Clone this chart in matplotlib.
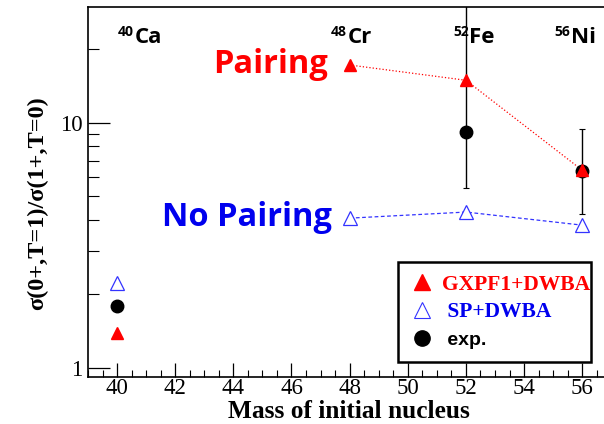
import matplotlib.pyplot as plt
from matplotlib.lines import Line2D
from matplotlib.ticker import MultipleLocator, LogLocator, NullFormatter, FixedLocator

# data
mass_th = [40, 48, 52, 56]
gxpf1 = [1.39, 17.2, 14.9, 6.4]
sp = [2.21, 4.08, 4.32, 3.82]

mass_exp = [40, 52, 56]
exp_val = [1.79, 9.15, 6.33]
exp_lo = [0.0, 5.41, 4.23]
exp_hi = [0.0, 40.0, 9.4]

nuc_a = ["40", "48", "52", "56"]
nuc_sym = ["Ca", "Cr", "Fe", "Ni"]
nuc_x = [40.6, 47.94, 52.12, 55.6]

serif = "Liberation Serif"

fig = plt.figure(figsize=(6.04, 4.24), dpi=100)
ax = fig.add_axes([0.1457, 0.1116, 0.8543, 0.8714])
ax.set_yscale("log")
ax.set_xlim(39.0, 56.75)
ax.set_ylim(0.92, 29.6)

# lines for the connected points
ax.plot(mass_th[1:], gxpf1[1:], ":", color="red", lw=0.9)
ax.plot(mass_th[1:], sp[1:], "--", color="#3333ff", lw=0.9, dashes=(3, 2))

# exp points with error bars
yerr_lo = [v - lo if lo > 0 else 0 for v, lo in zip(exp_val, exp_lo)]
yerr_hi = [hi - v if hi > 0 else 0 for v, hi in zip(exp_val, exp_hi)]
ax.errorbar(mass_exp, exp_val, yerr=[yerr_lo, yerr_hi], fmt="o", color="black",
            ms=9, elinewidth=1.0, capsize=2, capthick=0.8, zorder=3)

ax.plot(mass_th, gxpf1, "^", color="red", ms=9, ls="none", zorder=4)
ax.plot(mass_th, sp, "^", mfc="white", mec="#3333ff", mew=0.9, ms=10, ls="none", zorder=4)

# nucleus labels: mass number as superscript, then symbol
for x, a, s in zip(nuc_x, nuc_a, nuc_sym):
    ax.text(x, 21.1, s, ha="left", va="baseline", fontsize=16, fontweight="bold",
            family="Open Sans")
    ax.annotate(a, (x, 21.1), xytext=(-0.5, 5.5), textcoords="offset points",
                ha="right", va="baseline", fontsize=10, fontweight="bold",
                family="Open Sans")

ax.text(47.25, 17.2, "Pairing", color="red", ha="right", va="center", fontsize=23.5,
        fontweight="bold", family="Open Sans")
ax.text(47.4, 4.1, "No Pairing", color="#0000ee", ha="right", va="center",
        fontsize=23.5, fontweight="bold", family="Open Sans")

# ticks
ax.xaxis.set_major_locator(MultipleLocator(2))
ax.xaxis.set_minor_locator(MultipleLocator(0.5))
ax.yaxis.set_major_locator(FixedLocator([1, 10]))
ax.yaxis.set_minor_locator(LogLocator(base=10, subs=range(2, 10)))
ax.yaxis.set_major_formatter(plt.FuncFormatter(lambda v, p: "%g" % v))
ax.yaxis.set_minor_formatter(NullFormatter())
ax.tick_params(which="major", direction="in", length=16, width=0.9,
               labelsize=16.5, pad=4)
ax.tick_params(which="minor", direction="in", length=8, width=0.8)
ax.tick_params(axis="x", which="major", length=10, pad=1)
ax.tick_params(axis="x", which="minor", length=5)
for lab in ax.get_xticklabels() + ax.get_yticklabels():
    lab.set_family(serif)
ax.spines["right"].set_visible(False)
for s in ["left", "top", "bottom"]:
    ax.spines[s].set_linewidth(1.2)

ax.set_xlabel("Mass of initial nucleus", family=serif, fontweight="bold",
              fontsize=18.3)
ax.xaxis.set_label_coords(0.506, -0.111, transform=ax.transAxes)
ax.xaxis.label.set_va("baseline")
ax.set_ylabel("σ(0+,T=1)/σ(1+,T=0)", family=serif, fontweight="bold",
              fontsize=17.5)
ax.yaxis.set_label_coords(-0.078, 0.47)

handles = [
    Line2D([], [], marker="^", color="red", ls="none", ms=12),
    Line2D([], [], marker="^", mfc="white", mec="#3333ff", mew=0.8, ls="none", ms=12),
    Line2D([], [], marker="o", color="black", ls="none", ms=11),
]
leg = ax.legend(handles, ["GXPF1+DWBA", " SP+DWBA", " exp."],
                loc="lower left", bbox_to_anchor=(398 / 604, 62 / 424, 193 / 604, 99 / 424),
                bbox_transform=fig.transFigure, mode="expand", fancybox=False,
                borderaxespad=0, edgecolor="black", framealpha=1, borderpad=0.6,
                handletextpad=0.45, labelspacing=0.35, handlelength=1.0,
                prop={"family": serif, "weight": "bold", "size": 15.5})
leg.get_frame().set_linewidth(1.8)
texts = leg.get_texts()
texts[0].set_color("red")
texts[1].set_color("#0000ee")
texts[2].set_family("Liberation Sans")
texts[2].set_fontsize(14)

fig.savefig("out.png", dpi=100)
